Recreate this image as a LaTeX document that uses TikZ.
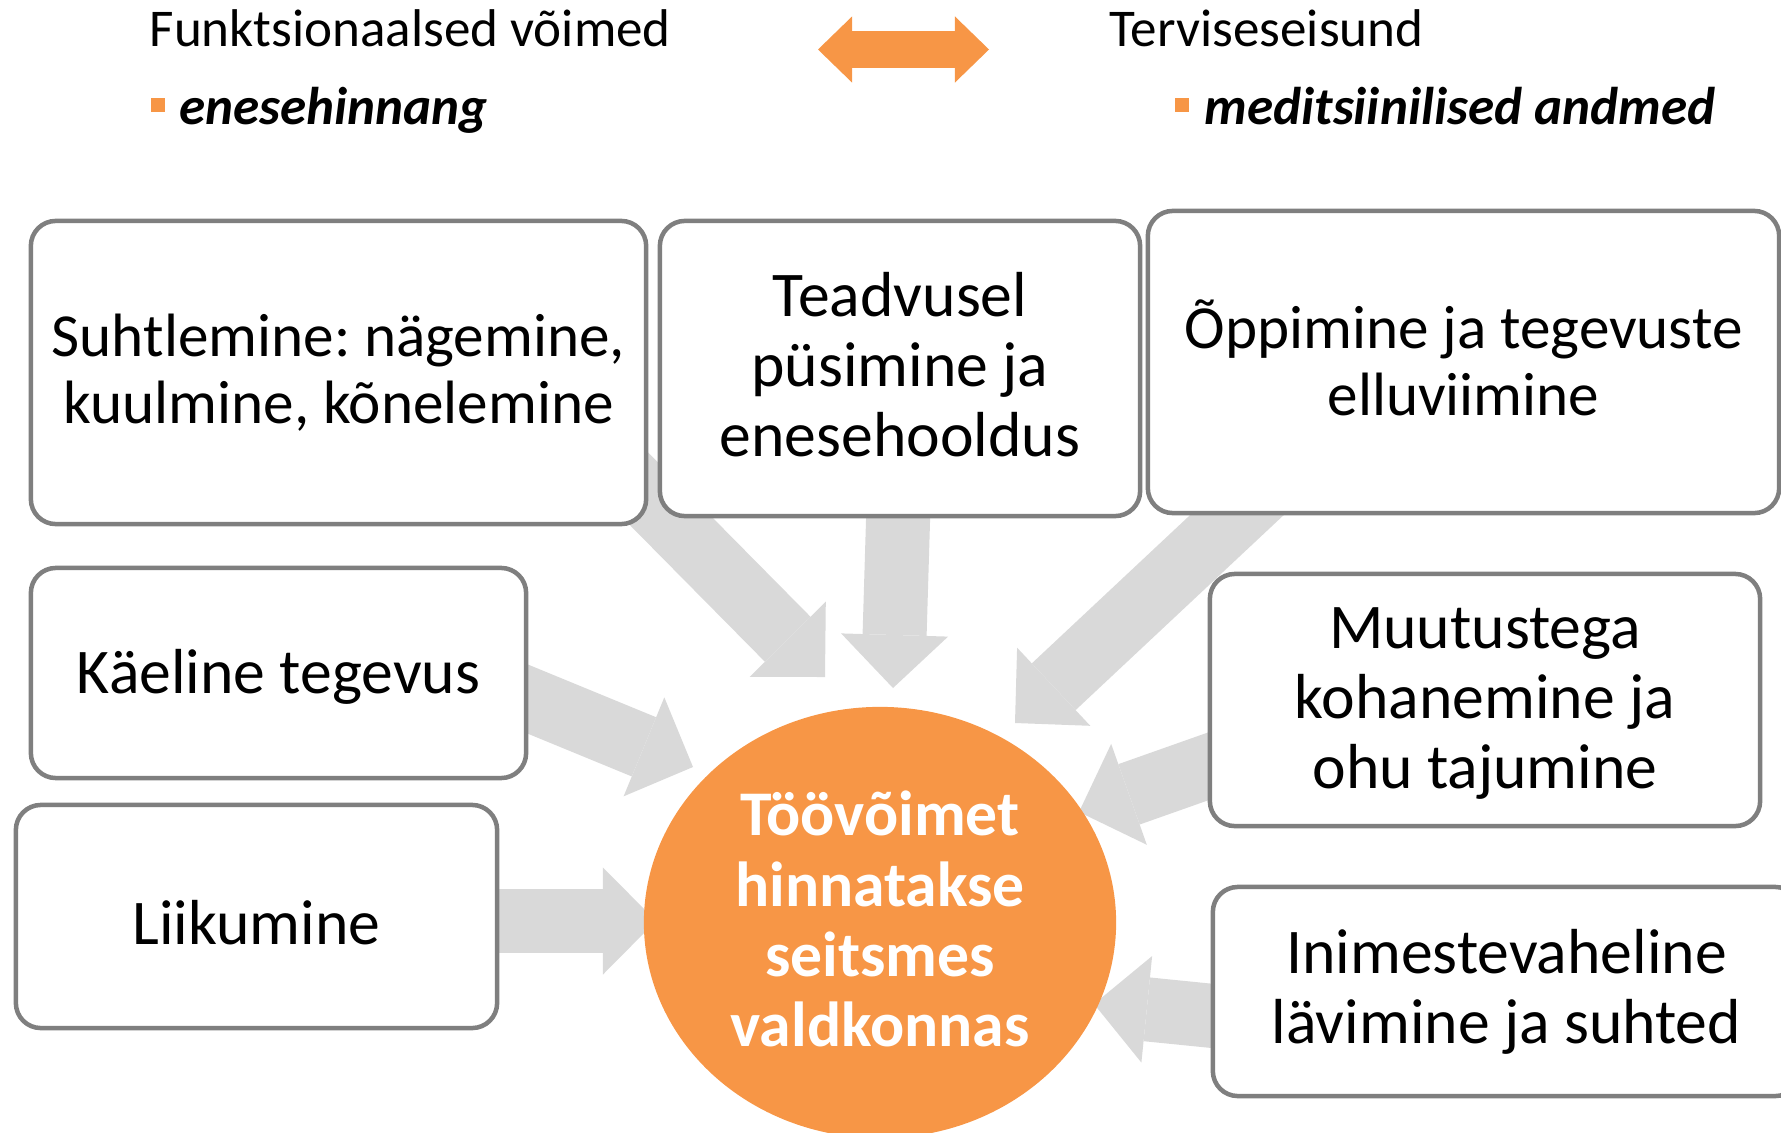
\documentclass[tikz,border=0pt]{standalone}
\usepackage{fontspec}
\setmainfont{Carlito}
\usepackage{tikz}
\usetikzlibrary{positioning,calc,arrows.meta,shapes.geometric,backgrounds}

\definecolor{oranz}{HTML}{F79646}
\definecolor{hall}{HTML}{D9D9D9}
\definecolor{serv}{HTML}{7F7F7F}

\tikzset{
  valdkond/.style={draw=serv, line width=0.045cm, rounded corners=0.25cm, fill=white,
    align=center, inner sep=0pt, font=\fontsize{18.1}{19.9}\selectfont},
  kitsas/.style={font=\fontsize{17.4}{18.9}\selectfont},
  ring/.style={ellipse, fill=oranz, minimum width=4.72cm, minimum height=4.31cm,
    inner sep=0pt, text=white, align=center, font=\bfseries\fontsize{18.1}{20}\selectfont},
  noolhall/.style={hall, line width=0.64cm, -{Triangle[length=0.53cm,width=1.07cm,line width=0pt]}},
  noolor/.style={oranz, line width=0.36cm,
    {Triangle[length=0.34cm,width=0.66cm,line width=0pt]}-{Triangle[length=0.34cm,width=0.66cm,line width=0pt]}},
  pealkiri/.style={anchor=base west, inner sep=0pt, font=\fontsize{15.1}{18}\selectfont},
  alapunkt/.style={anchor=base west, inner sep=0pt, font=\bfseries\itshape\fontsize{15.1}{18}\selectfont},
  punkt/.style={fill=oranz, minimum size=0.145cm, inner sep=0pt}
}

\begin{document}
\frenchspacing
\begin{tikzpicture}[x=0.01cm, y=-0.01cm]
\useasboundingbox (0,0) rectangle (1781,1133);

\node[pealkiri] (funk) at (149,46) {Funktsionaalsed võimed};
\node[pealkiri] (tervis) at (1109,46) {Terviseseisund};
\node[punkt] (p1) at (158,105) {};
\node[alapunkt] (hinnang) at (179,124) {enesehinnang};
\node[punkt] (p2) at (1182,105) {};
\node[alapunkt] (andmed) at (1204,124) {meditsiinilised andmed};
\coordinate (vasak) at (818,49.5);
\coordinate (parem) at (989,49.5);
\draw[noolor] (vasak) -- (parem);

\node[valdkond, kitsas, minimum width=6.15cm, minimum height=3.03cm] (suhtl) at (338.5,372.5) {Suhtlemine: nägemine,\\kuulmine, kõnelemine};
\node[valdkond, minimum width=4.80cm, minimum height=2.95cm, text depth=0.09cm] (teadv) at (900,368.5) {Teadvusel\\püsimine ja\\enesehooldus};
\node[valdkond, kitsas, minimum width=6.31cm, minimum height=3.02cm, text depth=0.09cm] (oppim) at (1463.5,362) {Õppimine ja tegevuste\\elluviimine};
\node[valdkond, minimum width=4.95cm, minimum height=2.10cm, text height=0.52cm] (kaeline) at (278.5,673) {Käeline tegevus};
\node[valdkond, minimum width=4.81cm, minimum height=2.23cm, text height=0.57cm] (liikum) at (256.5,916.5) {Liikumine};
\node[valdkond, minimum width=5.50cm, minimum height=2.52cm, text height=1.87cm] (muutus) at (1485,700) {Muutustega\\kohanemine ja\\ohu tajumine};
\node[valdkond, minimum width=5.87cm, minimum height=2.09cm] (inim) at (1506.5,991.5) {Inimestevaheline\\lävimine ja suhted};

\node[ring, text depth=0.068cm] (toovoime) at (880,922.5) {Töövõimet\\hinnatakse\\seitsmes\\valdkonnas};

\coordinate (a1) at (488,336);   \coordinate (a2) at (825,677);
\coordinate (b1) at (905,288);   \coordinate (b2) at (893,688);
\coordinate (c1) at (1380,381);  \coordinate (c2) at (1015,723);
\coordinate (d1) at (462,672);   \coordinate (d2) at (693,767);
\coordinate (e1) at (400,921);   \coordinate (e2) at (656,921);
\coordinate (f1) at (1362,712);  \coordinate (f2) at (1079,812);
\coordinate (g1) at (1392,1034); \coordinate (g2) at (1094,1004);

\begin{pgfonlayer}{background}
\draw[noolhall] (a1) -- (a2);
\draw[noolhall] (b1) -- (b2);
\draw[noolhall] (c1) -- (c2);
\draw[noolhall] (d1) -- (d2);
\draw[noolhall] (e1) -- (e2);
\draw[noolhall] (f1) -- (f2);
\draw[noolhall] (g1) -- (g2);
\end{pgfonlayer}
\end{tikzpicture}
\end{document}
